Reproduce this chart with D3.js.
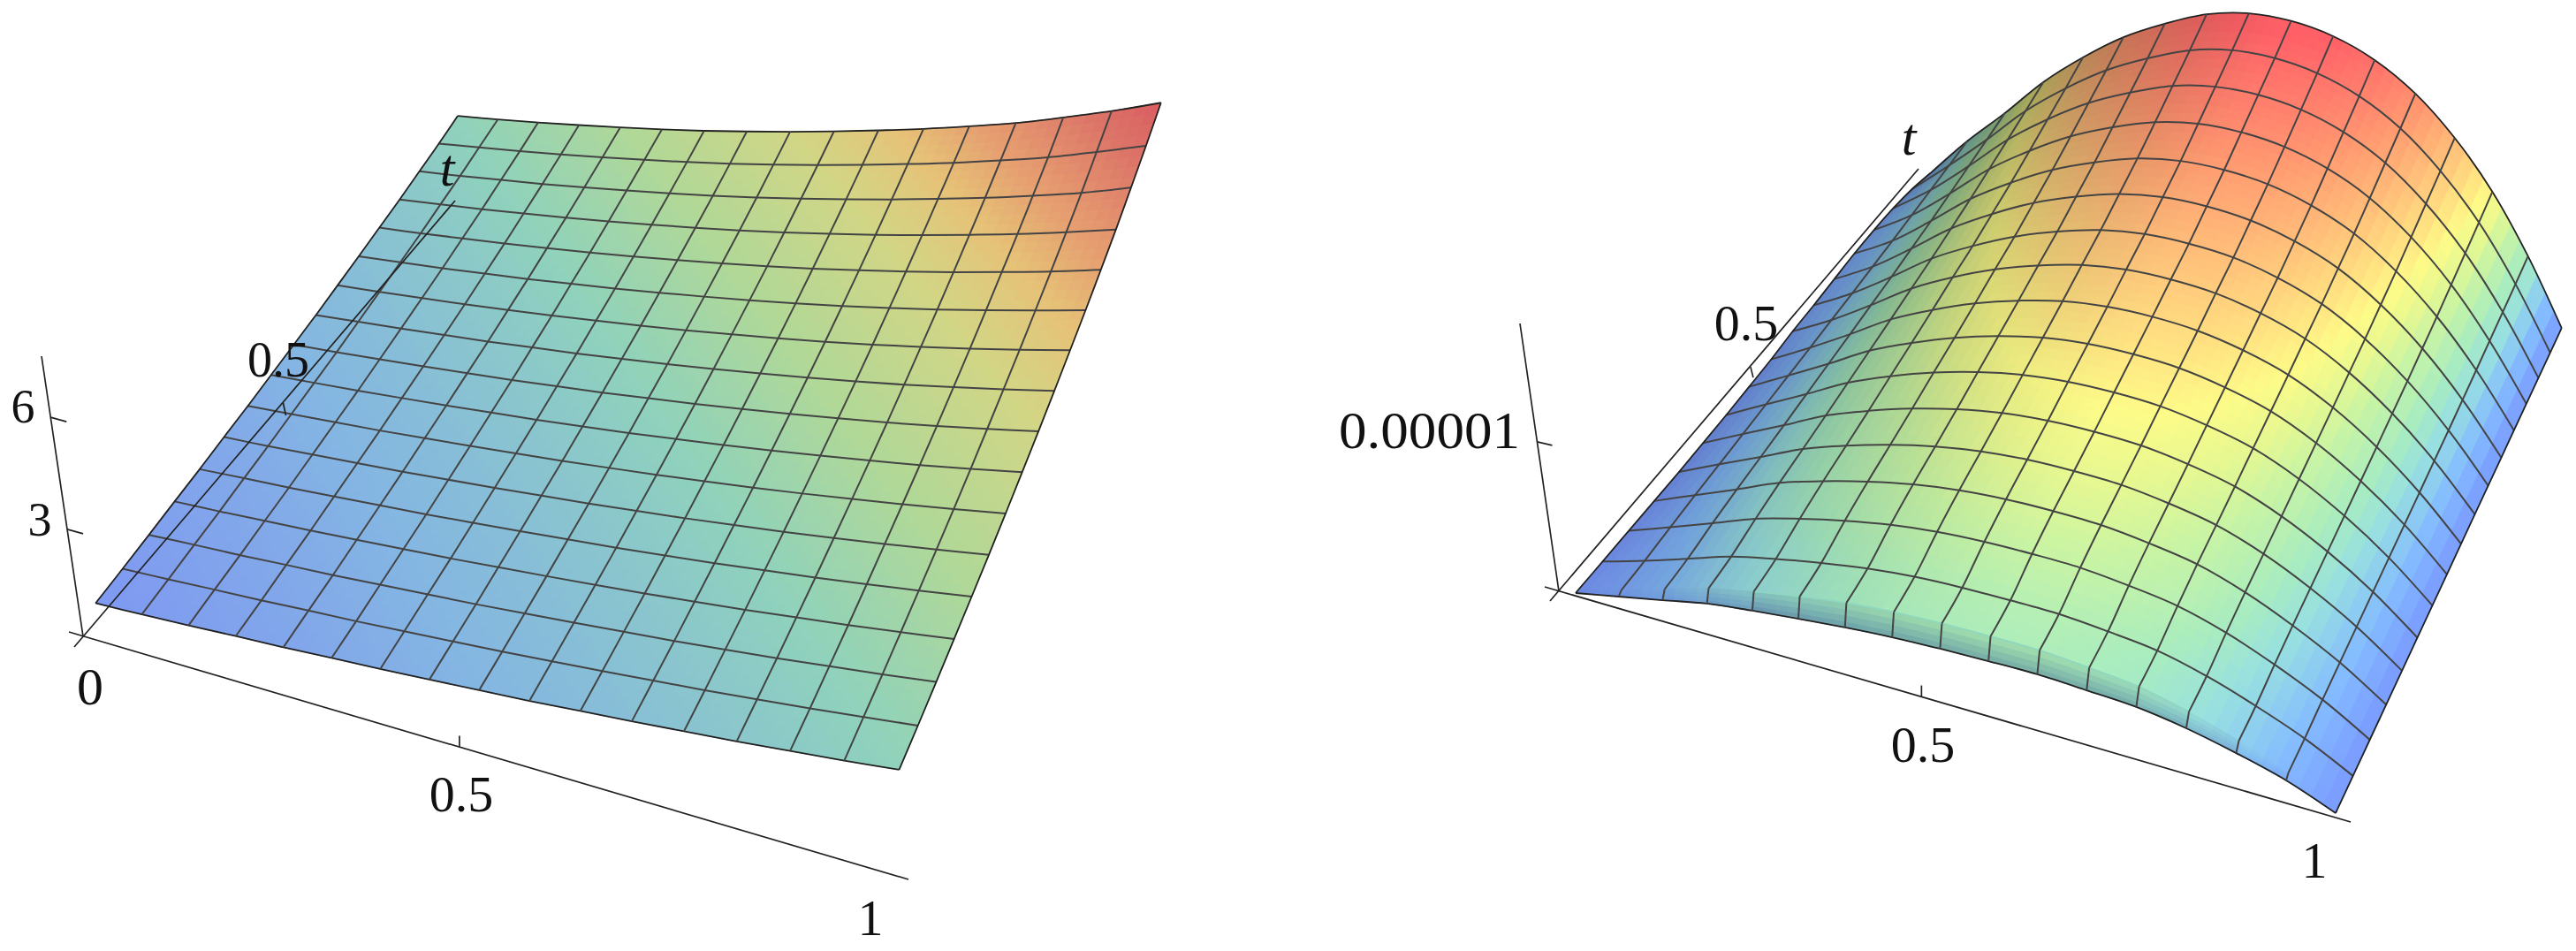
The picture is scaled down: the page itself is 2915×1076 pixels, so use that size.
<!DOCTYPE html>
<html lang="en">
<head>
<meta charset="UTF-8">
<title>Surfaces</title>
<script src="https://d3js.org/d3.v7.min.js"></script>
<style>
  body { margin: 0; background: #fff; }
  text { font-family: "Liberation Serif", serif; fill: #111; }
</style>
</head>
<body>
<div id="output"></div>
<script>
var xNodes = [0, 0.0625, 0.125, 0.1875, 0.25, 0.3125, 0.375, 0.4375, 0.5, 0.5625, 0.625, 0.6875, 0.75, 0.8125, 0.875, 0.9375, 1];
var tNodes = [0, 0.0625, 0.125, 0.1875, 0.25, 0.3125, 0.375, 0.4375, 0.5, 0.5625, 0.625, 0.6875, 0.75, 0.8125, 0.875, 0.9375, 1];
var tNodesRight = [0, 0.007, 0.0625, 0.125, 0.1875, 0.25, 0.3125, 0.375, 0.4375, 0.5, 0.5625, 0.625, 0.6875, 0.75, 0.8125, 0.875, 0.9375, 1];

// left surface heights, one row per t
var uLeft = [
  [1.00,1.06,1.13,1.21,1.28,1.37,1.45,1.55,1.65,1.75,1.87,1.99,2.12,2.25,2.40,2.55,2.72],
  [1.06,1.13,1.21,1.28,1.37,1.45,1.55,1.65,1.75,1.87,1.99,2.12,2.25,2.40,2.55,2.72,2.89],
  [1.13,1.21,1.28,1.37,1.45,1.55,1.65,1.75,1.87,1.99,2.12,2.25,2.40,2.55,2.72,2.89,3.08],
  [1.21,1.28,1.37,1.45,1.55,1.65,1.75,1.87,1.99,2.12,2.25,2.40,2.55,2.72,2.89,3.08,3.28],
  [1.28,1.37,1.45,1.55,1.65,1.75,1.87,1.99,2.12,2.25,2.40,2.55,2.72,2.89,3.08,3.28,3.49],
  [1.37,1.45,1.55,1.65,1.75,1.87,1.99,2.12,2.25,2.40,2.55,2.72,2.89,3.08,3.28,3.49,3.71],
  [1.45,1.55,1.65,1.75,1.87,1.99,2.12,2.25,2.40,2.55,2.72,2.89,3.08,3.28,3.49,3.71,3.95],
  [1.55,1.65,1.75,1.87,1.99,2.12,2.25,2.40,2.55,2.72,2.89,3.08,3.28,3.49,3.71,3.95,4.21],
  [1.65,1.75,1.87,1.99,2.12,2.25,2.40,2.55,2.72,2.89,3.08,3.28,3.49,3.71,3.95,4.21,4.48],
  [1.75,1.87,1.99,2.12,2.25,2.40,2.55,2.72,2.89,3.08,3.28,3.49,3.71,3.95,4.21,4.48,4.77],
  [1.87,1.99,2.12,2.25,2.40,2.55,2.72,2.89,3.08,3.28,3.49,3.71,3.95,4.21,4.48,4.77,5.08],
  [1.99,2.12,2.25,2.40,2.55,2.72,2.89,3.08,3.28,3.49,3.71,3.95,4.21,4.48,4.77,5.08,5.40],
  [2.12,2.25,2.40,2.55,2.72,2.89,3.08,3.28,3.49,3.71,3.95,4.21,4.48,4.77,5.08,5.40,5.75],
  [2.25,2.40,2.55,2.72,2.89,3.08,3.28,3.49,3.71,3.95,4.21,4.48,4.77,5.08,5.40,5.75,6.12],
  [2.40,2.55,2.72,2.89,3.08,3.28,3.49,3.71,3.95,4.21,4.48,4.77,5.08,5.40,5.75,6.12,6.55],
  [2.55,2.72,2.89,3.08,3.28,3.49,3.71,3.95,4.21,4.48,4.77,5.08,5.40,5.75,6.12,6.55,7.00],
  [2.72,2.89,3.08,3.28,3.49,3.71,3.95,4.21,4.48,4.77,5.08,5.40,5.75,6.12,6.55,7.00,7.50]
];

// right surface heights in units of 1e-5, rows follow tNodesRight
var uRight = [
  [0,0.065,0.13,0.196,0.238,0.274,0.306,0.331,0.346,0.355,0.36,0.347,0.33,0.283,0.212,0.125,0],
  [0,0.085,0.18,0.276,0.343,0.399,0.446,0.475,0.49,0.495,0.495,0.472,0.44,0.368,0.267,0.15,0],
  [0,0.093,0.194,0.296,0.368,0.429,0.479,0.512,0.528,0.533,0.532,0.507,0.471,0.393,0.286,0.16,0],
  [0,0.111,0.225,0.341,0.426,0.498,0.556,0.595,0.615,0.621,0.617,0.586,0.54,0.451,0.328,0.182,0],
  [0,0.126,0.25,0.378,0.473,0.553,0.618,0.662,0.686,0.692,0.685,0.65,0.597,0.497,0.362,0.2,0],
  [0,0.138,0.271,0.408,0.512,0.599,0.669,0.718,0.745,0.751,0.742,0.703,0.643,0.536,0.391,0.215,0],
  [0.005,0.151,0.293,0.44,0.552,0.647,0.722,0.776,0.805,0.812,0.801,0.759,0.692,0.576,0.421,0.231,0],
  [0.01,0.165,0.317,0.474,0.596,0.699,0.78,0.839,0.871,0.878,0.865,0.818,0.745,0.62,0.453,0.248,0],
  [0.02,0.179,0.34,0.508,0.638,0.749,0.836,0.901,0.936,0.943,0.928,0.877,0.796,0.662,0.484,0.265,0],
  [0.03,0.192,0.363,0.542,0.682,0.801,0.894,0.964,1.001,1.009,0.991,0.937,0.849,0.706,0.516,0.281,0],
  [0.05,0.207,0.388,0.578,0.729,0.856,0.955,1.031,1.072,1.079,1.06,1.001,0.905,0.752,0.55,0.3,0],
  [0.06,0.221,0.412,0.613,0.772,0.908,1.013,1.094,1.138,1.145,1.124,1.061,0.958,0.796,0.582,0.316,0],
  [0.075,0.238,0.441,0.654,0.825,0.971,1.083,1.17,1.218,1.226,1.201,1.133,1.022,0.848,0.621,0.337,0],
  [0.09,0.255,0.469,0.696,0.878,1.034,1.153,1.247,1.298,1.306,1.279,1.206,1.086,0.901,0.66,0.358,0],
  [0.095,0.274,0.502,0.744,0.939,1.106,1.234,1.335,1.39,1.399,1.368,1.29,1.159,0.962,0.705,0.381,0],
  [0.09,0.294,0.537,0.793,1.003,1.181,1.317,1.426,1.485,1.495,1.461,1.377,1.236,1.025,0.752,0.406,0],
  [0.07,0.314,0.571,0.843,1.066,1.256,1.401,1.518,1.581,1.591,1.554,1.464,1.312,1.088,0.798,0.43,0],
  [0.03,0.336,0.608,0.897,1.135,1.338,1.492,1.617,1.685,1.695,1.655,1.558,1.395,1.157,0.849,0.457,0]
];

var leftStops = [1, 1.65, 2.7, 3.5, 4.5, 5.2, 5.8, 6.8, 7.5];
var leftColours = ["#7f99f2", "#84b6e2", "#8fd2bc", "#b0d898", "#d2d685", "#e6c278", "#e6a070", "#dc7468", "#d95c60"];
var rightStops = [0, 0.17, 0.34, 0.46, 0.63, 0.75, 0.85, 0.95, 1.16, 1.33, 1.5, 1.65];
var rightColours = ["#7a9aff", "#84bcff", "#98e0e0", "#a8ecc0", "#c8f4a4", "#e8f890", "#fdfb88", "#ffe482", "#ffb878", "#ff9870", "#ff7a6c", "#ff6067"];

// how strongly the grey strip along the front edge shows, per column
var bandFade = [0.2, 0.2, 0.4, 0.7, 1, 1, 1, 1, 1, 1, 1, 1, 0.8, 0.5, 0.2, 0];

var width = 2915, height = 1076;

var svg = d3.select("#output").append("svg")
  .attr("width", width)
  .attr("height", height);

function makeCamera(c) {
  var zs = d3.scaleLinear().domain([0, c.zMax]).range([0, 1]);
  return function(x, t, u) {
    var Z = zs(u);
    var w = 1 + c.a * x + c.b * t + c.c * Z;
    var px = c.p00[0] + (x * ((1 + c.a) * (c.p10[0] - c.p00[0])) + t * ((1 + c.b) * (c.p01[0] - c.p00[0])) + Z * ((1 + c.c) * c.zDir[0])) / w;
    var py = c.p00[1] + (x * ((1 + c.a) * (c.p10[1] - c.p00[1])) + t * ((1 + c.b) * (c.p01[1] - c.p00[1])) + Z * ((1 + c.c) * c.zDir[1])) / w;
    return [px, py, w];
  };
}

function drawSurface(g, cfg) {
  var project = makeCamera(cfg.camera);
  var xs = cfg.x, ts = cfg.t, us = cfg.u;
  var colour = d3.scaleLinear().domain(cfg.stops).range(cfg.colours).clamp(true);
  var n = 4, quads = [];

  // slope along x at a node, central difference, used for the lighting only
  function nodeSlope(i, j) {
    var i0 = Math.max(0, i - 1), i1 = Math.min(xs.length - 1, i + 1);
    return (us[j][i1] - us[j][i0]) / (xs[i1] - xs[i0]);
  }

  function sample(i, j, fi, fj) {
    var u0 = us[j][i] + (us[j][i + 1] - us[j][i]) * fi;
    var u1 = us[j + 1][i] + (us[j + 1][i + 1] - us[j + 1][i]) * fi;
    var s0 = nodeSlope(i, j) + (nodeSlope(i + 1, j) - nodeSlope(i, j)) * fi;
    var s1 = nodeSlope(i, j + 1) + (nodeSlope(i + 1, j + 1) - nodeSlope(i, j + 1)) * fi;
    return {
      x: xs[i] + (xs[i + 1] - xs[i]) * fi,
      t: ts[j] + (ts[j + 1] - ts[j]) * fj,
      u: u0 + (u1 - u0) * fj,
      slope: s0 + (s1 - s0) * fj
    };
  }

  for (var j = 0; j < ts.length - 1; j++) {
    for (var i = 0; i < xs.length - 1; i++) {
      for (var a = 0; a < n; a++) {
        for (var b = 0; b < n; b++) {
          var s = [sample(i, j, a / n, b / n), sample(i, j, (a + 1) / n, b / n),
                   sample(i, j, (a + 1) / n, (b + 1) / n), sample(i, j, a / n, (b + 1) / n)];
          var pts = s.map(function(p) { return project(p.x, p.t, p.u); });
          var um = d3.mean(s, function(p) { return p.u; });
          var slope = d3.mean(s, function(p) { return p.slope; });
          var shade = cfg.shade(slope, j, (b + 0.5) / n, i);
          var col = d3.rgb(colour(um));
          col = d3.rgb(col.r * shade, col.g * shade, col.b * shade);
          quads.push({ pts: pts, w: d3.mean(pts, function(p) { return p[2]; }), fill: col.formatHex() });
        }
      }
    }
  }
  // far cells first
  quads.sort(function(p, q) { return q.w - p.w; });

  g.selectAll("path.q").data(quads).enter().append("path")
    .attr("class", "q")
    .attr("d", function(d) { return "M" + d.pts.map(function(p) { return p[0] + "," + p[1]; }).join("L") + "Z"; })
    .attr("fill", function(d) { return d.fill; })
    .attr("stroke", function(d) { return d.fill; })
    .attr("stroke-width", 1);

  var line = d3.line().curve(d3.curveCatmullRom.alpha(0.5));

  if (cfg.lip) {
    var lipPts = d3.range(cfg.lip.from, cfg.lip.to + 1).map(function(i) { return project(xs[i], ts[cfg.lip.row], us[cfg.lip.row][i]); });
    g.append("path").attr("d", line(lipPts.map(function(p) { return [p[0], p[1]]; })))
      .attr("fill", "none").attr("stroke", cfg.lip.colour).attr("stroke-width", 1.6);
  }

  // mesh lines, t = constant
  cfg.meshRows.forEach(function(j) {
    var pts = xs.map(function(x, i) { return project(x, ts[j], us[j][i]); });
    var edge = j === 0 || j === ts.length - 1;
    g.append("path").attr("d", line(pts.map(function(p) { return [p[0], p[1]]; })))
      .attr("fill", "none").attr("stroke", edge ? "#222" : "#444").attr("stroke-width", edge ? 1.8 : 2);
  });
  // mesh lines, x = constant
  xs.forEach(function(x, i) {
    var edge = i === 0 || i === xs.length - 1;
    cfg.columnRuns.forEach(function(run) {
      var pts = d3.range(run[0], run[1] + 1).map(function(j) { return project(x, ts[j], us[j][i]); });
      g.append("path").attr("d", line(pts.map(function(p) { return [p[0], p[1]]; })))
        .attr("fill", "none").attr("stroke", edge ? "#222" : "#444").attr("stroke-width", edge ? 1.8 : 2);
    });
  });
}

function drawAxes(g, ax) {
  function seg(a, b, w) {
    g.append("line").attr("x1", a[0]).attr("y1", a[1]).attr("x2", b[0]).attr("y2", b[1])
      .attr("stroke", "#222").attr("stroke-width", w || 1.7);
  }
  var o = ax.o;
  var xf = d3.scaleLinear().domain(ax.xDomain).range(ax.xRange);
  var tf = d3.scaleLinear().domain(ax.tDomain).range(ax.tRange);
  var zf = d3.scaleLinear().domain(ax.zDomain).range(ax.zRange);
  function onX(v) { var f = xf(v); return [o[0] + f * ax.xEnd[0], o[1] + f * ax.xEnd[1]]; }
  function onT(v) { var f = tf(v); return [o[0] + f * ax.tEnd[0], o[1] + f * ax.tEnd[1]]; }
  function onZ(v) { var f = zf(v); return [o[0] + f * ax.zEnd[0], o[1] + f * ax.zEnd[1]]; }

  seg([o[0] + ax.xTail[0], o[1] + ax.xTail[1]], onX(ax.xDomain[ax.xDomain.length - 1]));
  seg([o[0] + ax.tTail[0], o[1] + ax.tTail[1]], onT(ax.tDomain[ax.tDomain.length - 1]));
  seg(o, onZ(ax.zDomain[ax.zDomain.length - 1]));

  var p = onX(0.5);
  seg(p, [p[0], p[1] - 13]);
  p = onT(0.5);
  seg([p[0] + ax.tTick[0], p[1] + ax.tTick[1]], [p[0] + ax.tTick[2], p[1] + ax.tTick[3]]);
  ax.zTicks.forEach(function(v) {
    var q = onZ(v);
    seg(q, [q[0] + ax.zTickLen[0], q[1] + ax.zTickLen[1]]);
  });

  ax.labels.forEach(function(l) {
    var tx = g.append("text").attr("x", l.x).attr("y", l.y).attr("text-anchor", l.anchor || "middle")
      .attr("font-size", l.size).text(l.text);
    if (l.italic) tx.attr("font-style", "italic");
    if (l.len) tx.attr("textLength", l.len).attr("lengthAdjust", "spacingAndGlyphs");
  });
}

var left = svg.append("g");
drawSurface(left, {
  x: xNodes, t: tNodes, u: uLeft,
  stops: leftStops, colours: leftColours,
  meshRows: d3.range(0, 17),
  columnRuns: [[0, 16]],
  camera: { p00: [114, 722], p10: [1008, 981], p01: [522, 232], zDir: [-47, -317], a: -0.07, b: 0.215, c: -0.075, zMax: 7.49 },
  shade: function() { return 1; }
});
drawAxes(left, {
  o: [94, 720],
  xEnd: [934, 275], tEnd: [421, -493], zEnd: [-47, -317],
  xDomain: [-0.02, 0.5, 1.02], xRange: [0, 0.456, 1],
  tDomain: [-0.01, 0.5, 1.02], tRange: [0, 0.507, 1],
  zDomain: [0, 3, 6, 7.5], zRange: [0, 0.382, 0.782, 1],
  xTail: [-16, -5], tTail: [-10, 12], zTicks: [3, 6], zTickLen: [18, 5],
  tTick: [13, -14, 16, 0],
  labels: [
    { text: "0", x: 102, y: 797, size: 60 },
    { text: "0.5", x: 522, y: 918, size: 58 },
    { text: "1", x: 985, y: 1058, size: 58 },
    { text: "0.5", x: 315, y: 426, size: 56 },
    { text: "t", x: 506, y: 210, size: 60, italic: true },
    { text: "3", x: 45, y: 606, size: 54 },
    { text: "6", x: 26, y: 478, size: 54 }
  ]
});

var right = svg.append("g");
drawSurface(right, {
  x: xNodes, t: tNodesRight, u: uRight,
  stops: rightStops, colours: rightColours,
  meshRows: [0].concat(d3.range(2, 18)),
  columnRuns: [[0, 1], [1, 17]],
  lip: { row: 1, from: 4, to: 13, colour: "#8fd8c0" },
  camera: { p00: [1783, 671], p10: [2643, 920], p01: [2185, 200], zDir: [-44, -303], a: -0.07, b: 0.23, c: -0.075, zMax: 1.733 },
  shade: function(slope, j, f, i) {
    var s = 1 - 0.08 * Math.max(0, slope);
    if (j === 0) s *= 1 - bandFade[i] * (0.24 - 0.18 * f);
    return s;
  }
});
drawAxes(right, {
  o: [1764, 669],
  xEnd: [896, 261], tEnd: [407, -478], zEnd: [-44, -303],
  xDomain: [-0.02, 0.5, 1.02], xRange: [0, 0.458, 1],
  tDomain: [-0.01, 0.5, 1.02], tRange: [0, 0.506, 1],
  zDomain: [0, 1, 1.73], zRange: [0, 0.558, 1],
  xTail: [-16, -5], tTail: [-10, 11], zTicks: [1], zTickLen: [17, 4],
  tTick: [11, -12, 14, 0],
  labels: [
    { text: "0.5", x: 2176, y: 862, size: 58 },
    { text: "1", x: 2619, y: 993, size: 58 },
    { text: "0.5", x: 1976, y: 385, size: 58 },
    { text: "t", x: 2160, y: 175, size: 60, italic: true },
    { text: "0.00001", x: 1720, y: 507, size: 60, anchor: "end", len: 205 }
  ]
});
</script>
</body>
</html>
